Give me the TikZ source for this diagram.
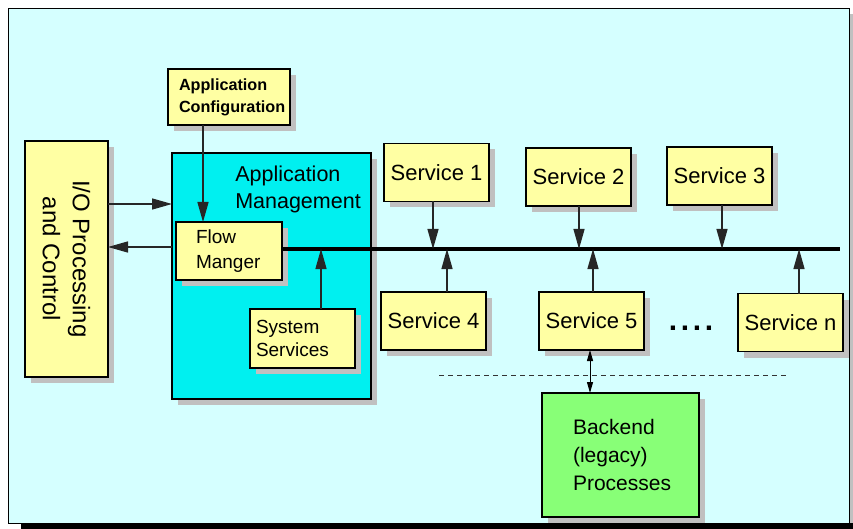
\documentclass[tikz,border=0pt]{standalone}
\usepackage{fontspec}
\setmainfont{Liberation Sans}
\usetikzlibrary{arrows.meta,shadows}

\definecolor{bgcyan}{HTML}{D5FFFF}
\definecolor{boxyellow}{HTML}{FFFFA3}
\definecolor{mgmtcyan}{HTML}{00F0F0}
\definecolor{legacygreen}{HTML}{88FF77}
\definecolor{shadowgray}{HTML}{C0C0C0}

\tikzset{
  shadowed/.style={drop shadow={shadow xshift=6pt, shadow yshift=-6pt,
      fill=shadowgray, opacity=1}},
  box/.style={draw=black, line width=1.2pt, fill=boxyellow, shadowed,
      inner sep=0pt, outer sep=0pt},
  svc/.style={box, minimum width=105pt, minimum height=58pt,
      font=\fontsize{22}{26}\selectfont},
  conn/.style={line width=1.3pt, draw=black!85},
  bigtip/.style={conn, -{Triangle[length=20pt,width=11pt]}},
  smalltip/.style={line width=1pt, {Triangle[length=11pt,width=6pt]}-{Triangle[length=11pt,width=6pt]}},
}

\begin{document}
\begin{tikzpicture}[x=1pt,y=-1pt]
  \useasboundingbox (0,0) rectangle (853,529);

  % slide frame with its shadow
  \fill[white] (0,0) rectangle (853,529);
  \fill[shadowgray] (849,14) rectangle (853,523);
  \fill[black] (21,523) rectangle (853,529);
  \draw[fill=bgcyan, line width=0.8pt] (8,8) rectangle (849,523);

  % left-hand and management blocks
  \node[box, minimum width=83pt, minimum height=236pt] (io) at (66.5,259) {};
  \node[rotate=-90, align=center, font=\fontsize{24}{30}\selectfont] (iotext) at (io.center)
       {I/O Processing\\and Control};

  \node[box, fill=mgmtcyan, minimum width=199pt, minimum height=246pt] (mgmt) at (271.5,276) {};
  \node[align=left, font=\fontsize{21.5}{27}\selectfont, inner sep=0pt] (mgmttext) at (298,189)
       {Application\\Management};

  \node[box, text width=100pt, inner xsep=11pt, minimum height=56pt, align=left,
        font=\bfseries\fontsize{16.2}{22}\selectfont] (cfg) at (229,97)
       {Application\\Configuration};

  \node[box, text width=66pt, inner xsep=20pt, minimum height=58pt, align=left,
        font=\fontsize{19}{25}\selectfont] (flow) at (229,251)
       {Flow\\Manger};

  \node[box, text width=93pt, inner xsep=6pt, minimum height=59pt, align=left,
        font=\fontsize{19}{23}\selectfont] (sys) at (302.5,338.5)
       {System\\Services};

  % services
  \node[svc] (s1) at (436.5,172.5) {Service 1};
  \node[svc] (s2) at (578.5,177) {Service 2};
  \node[svc] (s3) at (719.5,176) {Service 3};
  \node[svc] (s4) at (433.5,321) {Service 4};
  \node[svc] (s5) at (591.5,321) {Service 5};
  \node[svc] (sn) at (790.5,322.5) {Service n};

  \node[font=\bfseries\fontsize{30}{30}\selectfont, inner sep=0pt] (dots) at (691,328)
       {.\kern3.6pt.\kern3.6pt.\kern3.6pt.};

  % backend
  \node[box, fill=legacygreen, text width=95pt, inner xsep=31pt, minimum height=124pt,
        align=left, font=\fontsize{21}{28}\selectfont] (backend) at (620.5,455)
       {Backend\\(legacy)\\Processes};

  % bus and its attachment points
  \coordinate (busend) at (840,249);
  \coordinate (b1) at (433,249);
  \coordinate (b2) at (579,249);
  \coordinate (b3) at (722,249);
  \coordinate (b4) at (447,249);
  \coordinate (b5) at (593,249);
  \coordinate (bn) at (799,249);
  \coordinate (bsys) at (321,249);
  \draw[line width=4pt] (flow.east |- busend) -- (busend);

  % connectors
  \draw[bigtip] (cfg.south -| 203,0) -- (flow.north -| 203,0);
  \draw[bigtip] (io.east |- 0,204) -- (mgmt.west |- 0,204);
  \draw[bigtip] (mgmt.west |- 0,247) -- (io.east |- 0,247);
  \draw[bigtip] (sys.north -| bsys) -- (bsys);
  \draw[bigtip] (s1.south -| b1) -- (b1);
  \draw[bigtip] (s2.south -| b2) -- (b2);
  \draw[bigtip] (s3.south -| b3) -- (b3);
  \draw[bigtip] (s4.north -| b4) -- (b4);
  \draw[bigtip] (s5.north -| b5) -- (b5);
  \draw[bigtip] (sn.north -| bn) -- (bn);
  \draw[smalltip] (s5.south -| 590,0) -- (backend.north -| 590,0);

  % boundary of the legacy layer
  \coordinate (dashA) at (439,375);
  \coordinate (dashB) at (788,375);
  \draw[line width=0.8pt, draw=black!80, dash pattern=on 5pt off 4pt] (dashA) -- (dashB);
\end{tikzpicture}
\end{document}
